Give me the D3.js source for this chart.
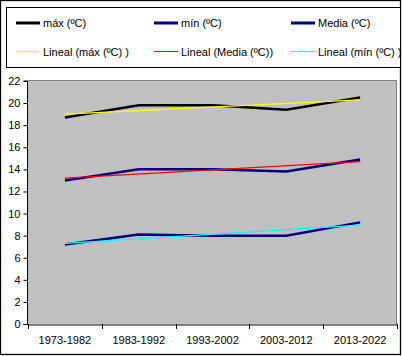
<!DOCTYPE html>
<html><head><meta charset="utf-8">
<script src="https://cdn.jsdelivr.net/npm/d3@7"></script>
<style>body{margin:0;background:#fff}svg{display:block}text{font-family:"Liberation Sans",Arial,sans-serif}</style>
</head><body>
<script>
const categories = ["1973-1982","1983-1992","1993-2002","2003-2012","2013-2022"];
const maxVals = [18.7, 19.8, 19.8, 19.4, 20.5];
const minVals = [7.2, 8.1, 8.0, 8.0, 9.2];
const mediaVals = [13.0, 14.0, 14.0, 13.8, 14.9];
// linear trend lines (start / end)
const trendMax = [19.0, 20.3];
const trendMedia = [13.2, 14.7];
const trendMin = [7.3, 8.95];
const yTicks = [0,2,4,6,8,10,12,14,16,18,20,22];
const legendLabels = ["máx (ºC)","mín (ºC)","Media (ºC)","Lineal (máx (ºC) )","Lineal (Media (ºC))","Lineal (mín (ºC) )"];

const W=402,H=356;
const svg=d3.select("body").append("svg").attr("width",W).attr("height",H);
svg.append("rect").attr("x",0.5).attr("y",0.5).attr("width",400).attr("height",354).attr("fill","#fff").attr("stroke","#000").attr("stroke-width",1.3);

const x=d3.scaleBand().domain(categories).range([28,397]);
const y=d3.scaleLinear().domain([0,22]).range([324,81]);

// plot area
svg.append("rect").attr("x",28).attr("y",81).attr("width",369).attr("height",243).attr("fill","#C0C0C0");
svg.append("path").attr("d",`M28,80.5H396.5V324`).attr("fill","none").attr("stroke","#808080");

// axes
const yAxis=d3.axisLeft(y).tickValues(yTicks).tickSize(4).tickPadding(3);
const gy=svg.append("g").attr("transform","translate(27.5,0)").call(yAxis);
const xAxis=d3.axisBottom(x).tickSize(0).tickPadding(12);
const gx=svg.append("g").attr("transform","translate(0,324.5)").call(xAxis);
[gx,gy].forEach(g=>{g.select(".domain").attr("stroke","#000");g.selectAll("text").attr("font-size","11px").attr("fill","#000").attr("font-family","Liberation Sans, Arial, sans-serif");g.selectAll("line").attr("stroke","#000");});
gy.select(".domain").attr("d","M-4,81H0V324.5H-4");
// x tick marks at band boundaries
const bounds=categories.map(c=>x(c)).concat([x.range()[1]]);
svg.append("g").selectAll("line").data(bounds).join("line")
  .attr("x1",d=>Math.round(d)+0.5).attr("x2",d=>Math.round(d)+0.5).attr("y1",324).attr("y2",329).attr("stroke","#000");

const cx=c=>x(c)+x.bandwidth()/2;
const line=d3.line().x((d,i)=>cx(categories[i])).y(d=>y(d));
const trendLine=vals=>`M${cx(categories[0])},${y(vals[0])}L${cx(categories[categories.length-1])},${y(vals[1])}`;

const series=[
  {vals:maxVals,color:"#000000",w:2.5},
  {vals:mediaVals,color:"#000080",w:2.5},
  {vals:minVals,color:"#000080",w:2.5}
];
series.forEach(s=>svg.append("path").attr("d",line(s.vals)).attr("fill","none").attr("stroke",s.color).attr("stroke-width",s.w));
[{v:trendMax,c:"#FFFF00"},{v:trendMedia,c:"#FF0000"},{v:trendMin,c:"#00FFFF"}].forEach(t=>
  svg.append("path").attr("d",trendLine(t.v)).attr("fill","none").attr("stroke",t.c).attr("stroke-width",1.3));

// legend
svg.append("rect").attr("x",6.5).attr("y",7.5).attr("width",394).attr("height",60).attr("fill","#fff").attr("stroke","#000");
const legItems=[
  {l:legendLabels[0],c:"#000000",w:3,col:0,row:0},
  {l:legendLabels[1],c:"#000080",w:3,col:1,row:0},
  {l:legendLabels[2],c:"#000080",w:3,col:2,row:0},
  {l:legendLabels[3],c:"#FFFF00",w:1,col:0,row:1},
  {l:legendLabels[4],c:"#FF0000",w:1,col:1,row:1},
  {l:legendLabels[5],c:"#00FFFF",w:1,col:2,row:1}
];
const colX=[16,154,291], rowY=[23,51.5];
const lg=svg.append("g").selectAll("g").data(legItems).join("g")
  .attr("transform",d=>`translate(${colX[d.col]},${rowY[d.row]})`);
lg.append("line").attr("x1",0).attr("x2",24).attr("y1",0).attr("y2",0).attr("stroke",d=>d.c).attr("stroke-width",d=>d.w);
lg.append("text").attr("x",27).attr("y",4).attr("font-size","11px").text(d=>d.l);
</script>
</body></html>
